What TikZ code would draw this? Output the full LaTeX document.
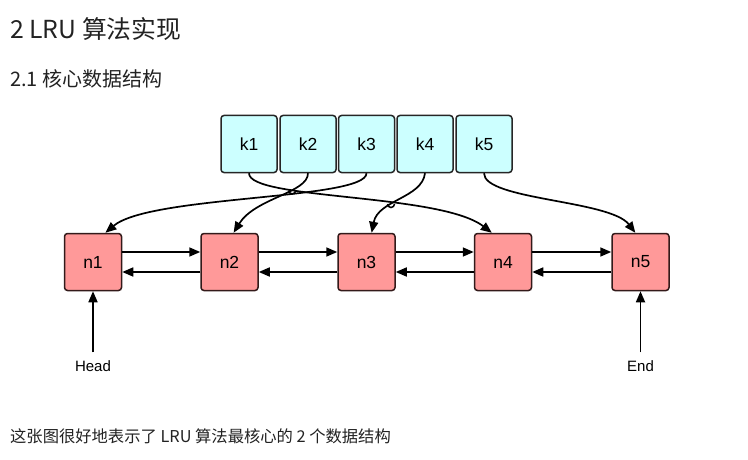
\documentclass[tikz,border=0pt]{standalone}
\usepackage{fontspec}
\setmainfont{Liberation Sans}
\newfontfamily\cjk{Noto Sans CJK SC}
\usetikzlibrary{arrows.meta}
\definecolor{keycyan}{RGB}{204,255,255}
\definecolor{noderose}{RGB}{255,153,153}
\definecolor{nodeedge}{RGB}{51,26,26}
\definecolor{pagetext}{RGB}{34,34,34}

\begin{document}
\begin{tikzpicture}[
    x=1pt, y=-1pt,
    keybox/.style={draw=black!85, fill=keycyan, rounded corners=3pt, line width=1.5pt,
        minimum width=56pt, minimum height=57pt, font=\fontsize{17.5}{20}\selectfont},
    listnode/.style={draw=nodeedge, fill=noderose, rounded corners=3pt, line width=1.5pt,
        minimum size=57pt, font=\fontsize{17.5}{20}\selectfont},
    link/.style={-{Triangle[length=11pt,width=9pt]}, line width=1.7pt},
    title/.style={anchor=base west, text=pagetext, inner sep=0pt},
    tag/.style={font=\fontsize{15}{17}\selectfont, inner sep=2pt}
]
\useasboundingbox (0,0) rectangle (748,460);
\node[title, font=\cjk\fontsize{24.8}{28}\selectfont] (h1) at (10,39) {2 LRU 算法实现};
\node[title, font=\cjk\fontsize{20}{24}\selectfont] (h2) at (10,87) {2.1 核心数据结构};
\node[title, font=\cjk\fontsize{16.3}{19}\selectfont] (caption) at (10,442) {这张图很好地表示了 LRU 算法最核心的 2 个数据结构};

\foreach \i/\x in {1/249,2/308,3/366.5,4/425,5/484}
    \node[keybox] (k\i) at (\x,144) {k\i};
\foreach \i/\x in {1/93,2/229.5,3/366.5,4/503,5/640.5}
    \node[listnode] (n\i) at (\x,262) {n\i};

\foreach \a/\b in {1/2,2/3,3/4,4/5} {
    \draw[link] ([yshift=10pt]n\a.east) -- ([yshift=10pt]n\b.west);
    \draw[link] ([yshift=-10pt]n\b.west) -- ([yshift=-10pt]n\a.east);
}

\draw[link] (k1.south) .. controls (249,200) and (440,193) .. (n4.111);
\draw[link] (k2.south) .. controls (308,193) and (255,198) .. (n2.82);
\draw[link] (k3.south) .. controls (366,200) and (150,195) .. (n1.67);
\draw[link] (k4.south) .. controls (422,198) and (378,200) .. (n3.80);
\draw[link] (k5.south) .. controls (484,200) and (610,200) .. (n5.100);
\draw[line width=1.5pt] (288.8,190.4) arc[start angle=180, end angle=0, radius=3.5];
\draw[line width=1.5pt] (387.5,204) arc[start angle=180, end angle=0, radius=3.5];

\node[tag] (head) at (93,366) {Head};
\node[tag] (end) at (640.5,366) {End};
\draw[link] ([yshift=6pt]head.north) -- (n1.south);
\draw[link] ([yshift=6pt]end.north) -- (n5.south);
\end{tikzpicture}
\end{document}
